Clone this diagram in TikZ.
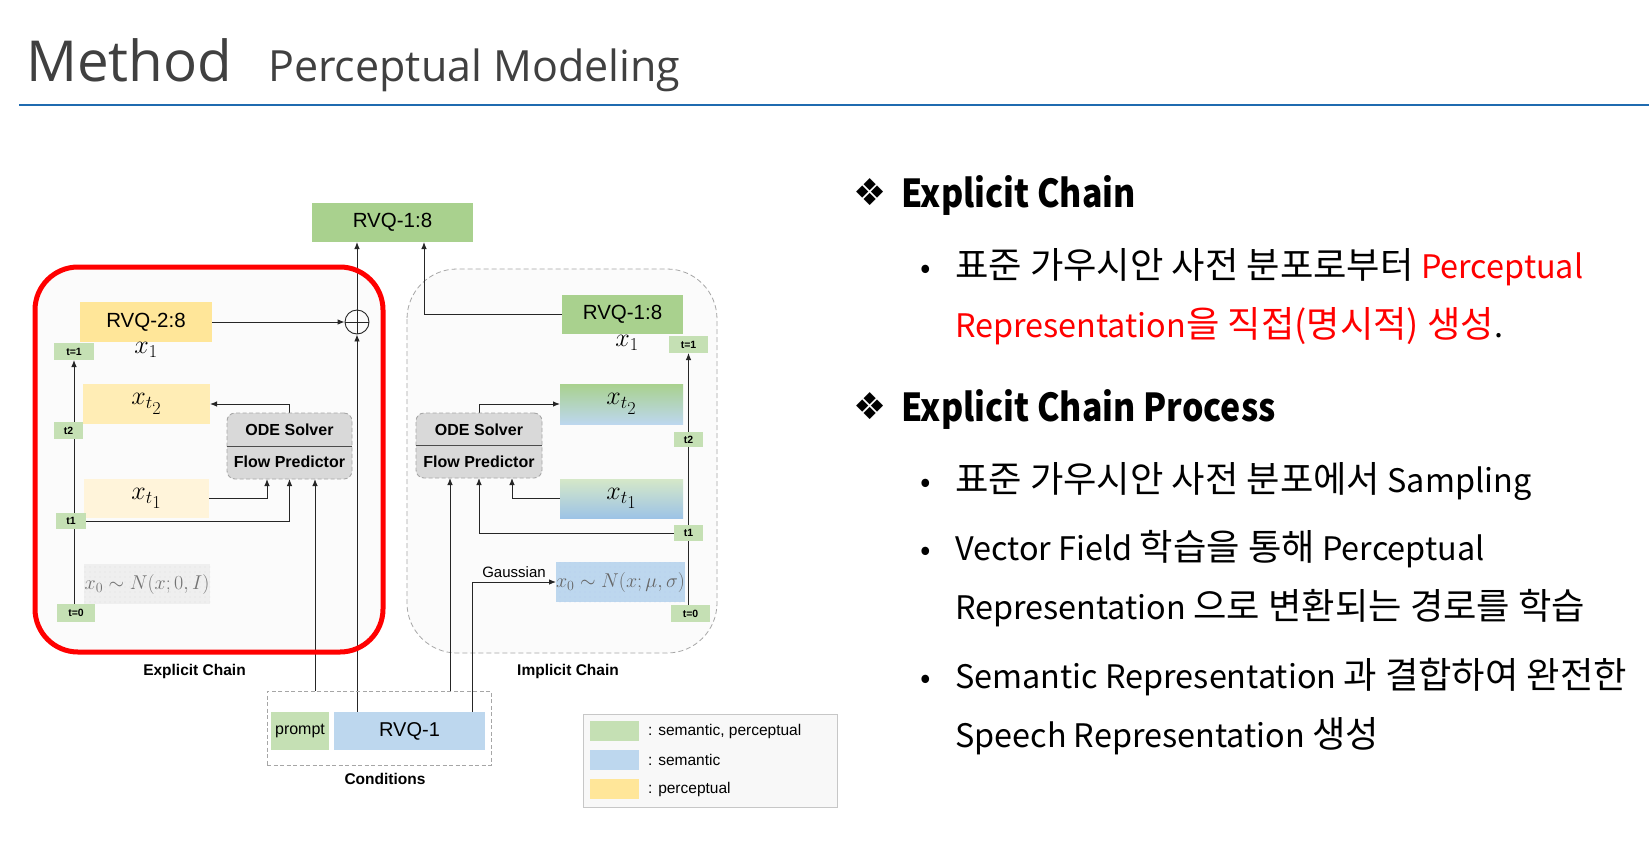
\RequirePackage{fix-cm}
\documentclass[tikz,border=0pt]{standalone}
\usepackage[no-math]{fontspec}
\setsansfont{Liberation Sans}
\newfontfamily\kr{Noto Sans CJK KR}
\newfontfamily\titlefont{Open Sans}
\newfontfamily\symfont{DejaVu Sans}
\usetikzlibrary{arrows.meta,patterns.meta,calc}
\newcommand\fsz[1]{\fontsize{#1}{#1}\selectfont}
\newcommand\K[1]{{\fontsize{36.3}{36.3}\selectfont #1}}
\definecolor{titlegray}{HTML}{404040}
\definecolor{lineblue}{HTML}{1F6BB0}
\definecolor{gA}{HTML}{A9D18E}
\definecolor{gB}{HTML}{C5E0B4}
\definecolor{gC}{HTML}{D5E8C8}
\definecolor{bA}{HTML}{BDD7EE}
\definecolor{bB}{HTML}{9DC3E6}
\definecolor{yA}{HTML}{FFE699}
\definecolor{yB}{HTML}{FFEDB5}
\definecolor{yC}{HTML}{FFF4DA}
\definecolor{odegray}{HTML}{D9D9D9}
\definecolor{dashgray}{HTML}{A6A6A6}
\definecolor{panelbg}{HTML}{FBFBFB}
\definecolor{dotgray}{HTML}{EFEFEF}
\definecolor{legbg}{HTML}{F8F8F8}
\pgfdeclarelayer{bg}
\pgfdeclarelayer{edges}
\pgfdeclarelayer{top}
\pgfsetlayers{bg,edges,main,top}
\tikzset{
  bx/.style={inner sep=0pt, outer sep=0pt, font=\sffamily},
  rvqbox/.style={bx, font=\sffamily\fsz{20.5}},
  mathbox/.style={bx, font=\fsz{26}},
  tb/.style={bx, fill=gB, font=\sffamily\bfseries\fsz{10.5}},
  arr/.style={-{Latex[length=7pt,width=5.5pt]}, line width=0.9pt, draw=black!85},
  ln/.style={line width=0.9pt, draw=black!85},
  odebox/.style={bx, draw=dashgray, dash pattern=on 4pt off 2.5pt, fill=odegray, rounded corners=8pt, line width=0.9pt},
  odetxt/.style={inner sep=0pt, font=\sffamily\bfseries\fsz{16}},
  lbl/.style={inner sep=0pt, font=\sffamily\bfseries\fsz{15.5}},
  legtxt/.style={inner sep=0pt, anchor=west, font=\sffamily\fsz{15.5}},
  krtxt/.style={inner sep=0pt, anchor=base west, font=\kr\fsz{32.4}},
  krhead/.style={inner sep=0pt, anchor=base west, font=\kr\bfseries\fsz{38.5}},
  bul/.style={inner sep=0pt, anchor=base, font=\kr\fsz{31}},
  dia/.style={inner sep=0pt, font=\symfont\fsz{37}},
}
\begin{document}
\begin{tikzpicture}[x=1pt,y=-1pt]
\path[use as bounding box] (0,0) rectangle (1649,852);
% ---------- panels
\begin{pgfonlayer}{bg}
\fill[white] (0,0) rectangle (1649,852);
\fill[panelbg, rounded corners=43pt] (35,267) rectangle (383,652);
\draw[dashgray, dash pattern=on 5pt off 3pt, line width=0.8pt, fill=panelbg, rounded corners=50pt] (407,269) rectangle (717,653);
\end{pgfonlayer}
\begin{pgfonlayer}{top}
\draw[red, line width=5pt, rounded corners=43pt] (35,267) rectangle (383,652);
\end{pgfonlayer}
% ---------- title
\node[anchor=base west, inner sep=0pt, font=\titlefont\fsz{56.5}, text=titlegray] (title) at (26,81) {Method};
\node[anchor=base west, inner sep=0pt, font=\titlefont\fsz{43}, text=titlegray] (subtitle) at (268,81) {Perceptual Modeling};
\draw[lineblue, line width=2.2pt] (19,105) -- (1649,105);
% ---------- top output
\node[rvqbox, fill=gA, minimum width=161pt, minimum height=39pt] (rvqtop) at (392.5,222.5) {RVQ-1:8};
% ---------- explicit chain
\node[rvqbox, fill=yA, minimum width=132pt, minimum height=40pt] (rvq28) at (146,322) {RVQ-2:8};
\node[mathbox] (ex1) at (146,350) {$x_1$};
\node[tb, minimum width=40pt, minimum height=17pt] (et1top) at (74,351.5) {t=1};
\node[mathbox, fill=yB, minimum width=127pt, minimum height=40pt] (ext2) at (146.5,404) {$x_{t_{\scriptstyle 2}}$};
\node[tb, minimum width=29pt, minimum height=17pt] (et2) at (68.5,430.5) {t2};
\node[odebox, minimum width=125pt, minimum height=66pt] (eode) at (289.5,446) {};
\node[odetxt] (eodeA) at (289.5,430) {ODE Solver};
\node[odetxt] (eodeB) at (289.5,462) {Flow Predictor};
\node[mathbox, fill=yC, minimum width=125pt, minimum height=39pt] (ext1) at (146.5,498.5) {$x_{t_{\scriptstyle 1}}$};
\node[tb, minimum width=30pt, minimum height=16pt] (et1) at (71,521) {t1};
\node[bx, font=\fsz{20}, preaction={fill=dotgray}, pattern={Dots[distance=5pt,radius=0.45pt]}, pattern color=black!25, minimum width=126pt, minimum height=40pt] (ex0) at (147,584) {\textcolor{black!55}{$x_0\sim N(x;0,I)$}};
\node[tb, minimum width=38pt, minimum height=18pt] (et0) at (76,613) {t=0};
\node[circle, draw=black!85, line width=0.9pt, minimum size=24pt, inner sep=0pt, fill=panelbg] (oplus) at (357,322) {};
\node[lbl] (explbl) at (194.5,671) {Explicit Chain};
% ---------- implicit chain
\node[rvqbox, fill=gA, minimum width=121pt, minimum height=39pt] (irvq) at (622.5,314.5) {RVQ-1:8};
\node[mathbox] (ix1) at (627,343) {$x_1$};
\node[tb, minimum width=39pt, minimum height=17pt] (it1top) at (688.5,344.5) {t=1};
\node[mathbox, top color=gA, bottom color=bA, minimum width=123pt, minimum height=40pt] (ixt2) at (621.5,404) {$x_{t_{\scriptstyle 2}}$};
\node[odebox, minimum width=126pt, minimum height=65pt] (iode) at (479,445.5) {};
\node[odetxt] (iodeA) at (479,430) {ODE Solver};
\node[odetxt] (iodeB) at (479,462) {Flow Predictor};
\node[tb, minimum width=29pt, minimum height=15pt] (it2) at (688.5,439.5) {t2};
\node[mathbox, top color=gC, bottom color=bB, minimum width=123pt, minimum height=39pt] (ixt1) at (621.5,498.5) {$x_{t_{\scriptstyle 1}}$};
\node[tb, minimum width=29pt, minimum height=16pt] (it1) at (688.5,533) {t1};
\node[bx, font=\fsz{20}, preaction={fill=bA}, pattern={Dots[distance=5pt,radius=0.45pt]}, pattern color=bB!70!blue!60!white, minimum width=125pt, minimum height=40pt] (ix0) at (620.5,582) {\textcolor{black!60}{$x_0\sim N(x;\mu,\sigma)$}};
\node[tb, minimum width=39pt, minimum height=17pt] (it0) at (690.5,613.5) {t=0};
\node[inner sep=0pt, font=\sffamily\fsz{15}] (gauss) at (514,572) {Gaussian};
\node[lbl] (implbl) at (568,671) {Implicit Chain};
% ---------- conditions
\node[bx, draw=dashgray, dash pattern=on 4pt off 2.5pt, line width=0.8pt, minimum width=224pt, minimum height=74pt] (cond) at (379,728) {};
\node[bx, fill=gB, minimum width=58pt, minimum height=38pt, font=\sffamily\fsz{16}] (prompt) at (300,731) {prompt};
\node[bx, fill=bA, minimum width=151pt, minimum height=38pt, font=\sffamily\fsz{20}] (crvq) at (409.5,731) {RVQ-1};
\node[lbl] (condlbl) at (385,779) {Conditions};
% ---------- legend
\node[bx, draw=black!22, fill=legbg, line width=0.9pt, minimum width=254pt, minimum height=93pt] (legend) at (710,760.5) {};
\node[bx, fill=gB, minimum width=49pt, minimum height=20pt] (lg1) at (614.5,731) {};
\node[bx, fill=bA, minimum width=49pt, minimum height=20pt] (lg2) at (614.5,760) {};
\node[bx, fill=yA, minimum width=49pt, minimum height=20pt] (lg3) at (614.5,789) {};
\node[legtxt] (lt1) at (648,731) {: semantic, perceptual};
\node[legtxt] (lt2) at (648,760) {: semantic};
\node[legtxt] (lt3) at (648,789) {: perceptual};
% ---------- connectors
\coordinate (ein1) at ($(eode.south)+(-22.5,0)$);
\coordinate (ein3) at ($(eode.south)+(25.5,0)$);
\coordinate (rin2) at ($(rvqtop.south)+(31.5,0)$);
\coordinate (iin1) at ($(iode.south)+(-29,0)$);
\coordinate (iin3) at ($(iode.south)+(33,0)$);
\coordinate (gsrc) at ($(crvq.north east)+(-12.5,0)$);
\begin{pgfonlayer}{edges}
\draw[arr] (rvq28.east) -- (oplus.west);
\draw[arr] (oplus.north) -- (rvqtop.south -| oplus.north);
\draw[arr] (crvq.north -| oplus.south) -- (oplus.south);
\draw[arr] (et0.north -| et1top.south) -- (et1top.south);
\draw[arr] (eode.north) |- (ext2.east);
\draw[arr] (ext1.east) -| (ein1);
\draw[arr] (et1.east) -| (eode.south);
\draw[arr] (cond.north -| ein3) -- (ein3);
\draw[arr] (irvq.west) -| (rin2);
\draw[arr] (it0.north -| it1top.south) -- (it1top.south);
\draw[arr] (iode.north) |- (ixt2.west);
\draw[arr] (ixt1.west) -| (iin3);
\draw[arr] (it1.west) -| (iode.south);
\draw[arr] (cond.north -| iin1) -- (iin1);
\draw[arr] (gsrc) |- (ix0.west);
\end{pgfonlayer}
\draw[ln] (oplus.north) -- (oplus.south);
\draw[ln] (oplus.west) -- (oplus.east);
\draw[black!70, line width=1pt] (eode.west) -- (eode.east);
\draw[black!70, line width=1pt] (iode.west) -- (iode.east);
% ---------- right text
\node[dia] (d1) at (870,192) {❖};
\node[krhead] (h1) at (901,207) {\scalebox{0.88}[1]{Explicit Chain}};
\node[bul] (b1) at (925.5,278) {•};
\node[krtxt] (l1a) at (955,278) {\K{표준 가우시안 사전 분포로부터} \textcolor{red}{Perceptual}};
\node[krtxt, text=red] (l1b) at (955,337) {Representation\K{을 직접(명시적) 생성}\textcolor{black}{.}};
\node[dia] (d2) at (870,406) {❖};
\node[krhead] (h2) at (901,421) {\scalebox{0.88}[1]{Explicit Chain Process}};
\node[bul] (b2) at (925.5,492) {•};
\node[krtxt] (l2) at (955,492) {\K{표준 가우시안 사전 분포에서} Sampling};
\node[bul] (b3) at (925.5,560.5) {•};
\node[krtxt] (l3a) at (955,560.5) {Vector Field \K{학습을 통해} Perceptual};
\node[krtxt] (l3b) at (955,619.5) {Representation \K{으로 변환되는 경로를 학습}};
\node[bul] (b4) at (925.5,688) {•};
\node[krtxt] (l4a) at (955,688) {Semantic Representation \K{과 결합하여 완전한}};
\node[krtxt] (l4b) at (955,747) {Speech Representation \K{생성}};
\end{tikzpicture}
\end{document}
